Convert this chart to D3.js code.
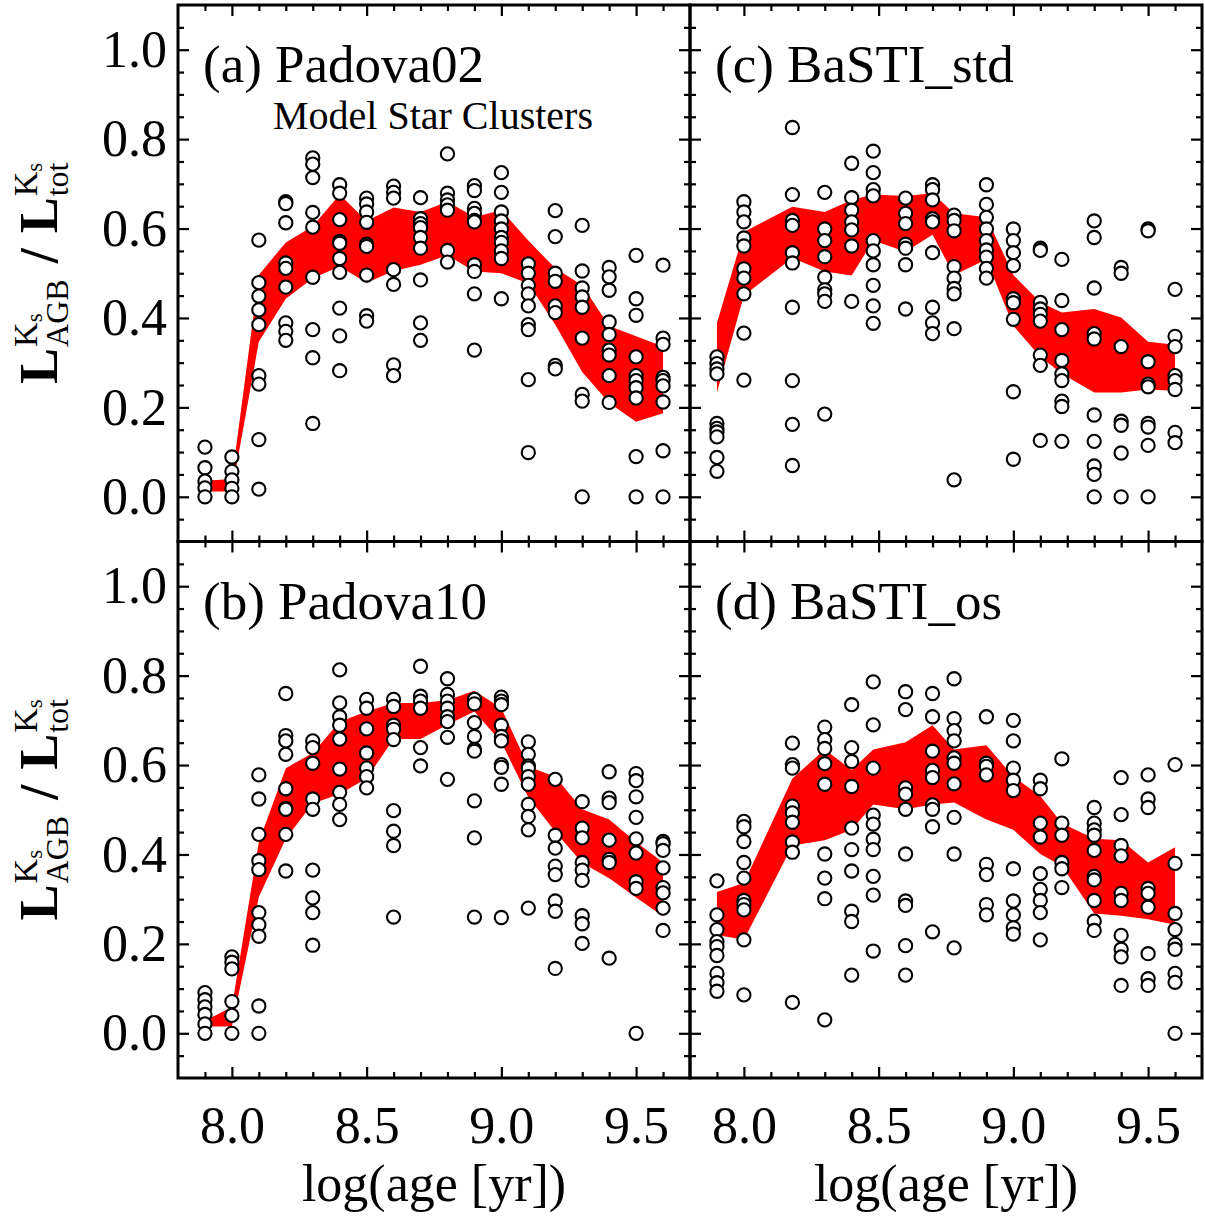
<!DOCTYPE html>
<html><head><meta charset="utf-8">
<script src="https://cdn.jsdelivr.net/npm/d3@7"></script>
<style>
body{margin:0;background:#fff}
svg{display:block}
text{font-family:"Liberation Serif","Times New Roman",Times,serif;fill:#000}
</style>
</head><body>
<svg id="chart" width="1205" height="1218"></svg>
<script>
// ---------- data ----------
const padovaAges = [7.9,8.0,8.1,8.2,8.3,8.4,8.5,8.6,8.7,8.8,8.9,9.0,9.1,9.2,9.3,9.4,9.5,9.6];
const bastiAges  = [7.9,8.0,8.18,8.3,8.4,8.48,8.6,8.7,8.78,8.9,9.0,9.1,9.18,9.3,9.4,9.5,9.6];

const padova02Points = [
 [0.111,0.065,0.035,0.020,0.000],
 [0.089,0.057,0.038,0.019,0.000],
 [0.574,0.479,0.449,0.418,0.385,0.271,0.252,0.128,0.017],
 [0.660,0.656,0.613,0.523,0.511,0.469,0.389,0.370,0.350],
 [0.758,0.744,0.714,0.636,0.603,0.491,0.374,0.311,0.164],
 [0.698,0.679,0.620,0.571,0.567,0.533,0.502,0.422,0.360,0.282],
 [0.668,0.655,0.637,0.614,0.565,0.560,0.496,0.405,0.393],
 [0.695,0.681,0.668,0.508,0.475,0.295,0.271],
 [0.669,0.622,0.611,0.602,0.580,0.556,0.485,0.389,0.350],
 [0.767,0.679,0.664,0.653,0.641,0.551,0.525],
 [0.696,0.685,0.645,0.634,0.618,0.615,0.519,0.504,0.454,0.328],
 [0.725,0.681,0.637,0.617,0.599,0.580,0.569,0.550,0.533,0.443],
 [0.521,0.500,0.473,0.454,0.427,0.385,0.374,0.262,0.099],
 [0.640,0.582,0.500,0.482,0.427,0.412,0.294,0.286],
 [0.607,0.505,0.467,0.447,0.424,0.355,0.229,0.214,0.000],
 [0.513,0.492,0.462,0.391,0.363,0.328,0.317,0.271,0.211],
 [0.540,0.443,0.406,0.313,0.271,0.260,0.244,0.221,0.090,0.000],
 [0.518,0.355,0.341,0.267,0.260,0.248,0.212,0.103,0.000]
];
const padova02Upper = [0.036,0.040,0.496,0.569,0.605,0.676,0.617,0.647,0.637,0.660,0.626,0.641,0.573,0.511,0.473,0.382,0.359,0.336];
const padova02Lower = [0.012,0.012,0.347,0.443,0.489,0.515,0.479,0.505,0.519,0.540,0.504,0.500,0.477,0.385,0.279,0.210,0.168,0.187];

const padova10Points = [
 [0.091,0.075,0.059,0.042,0.021,0.000],
 [0.171,0.159,0.144,0.071,0.040,0.000],
 [0.578,0.524,0.445,0.386,0.366,0.270,0.243,0.217,0.061,0.000],
 [0.760,0.666,0.654,0.624,0.547,0.503,0.501,0.445,0.363],
 [0.654,0.639,0.604,0.524,0.501,0.365,0.303,0.270,0.197],
 [0.813,0.739,0.708,0.689,0.658,0.591,0.539,0.512,0.478],
 [0.747,0.727,0.681,0.627,0.593,0.574,0.549],
 [0.747,0.731,0.689,0.680,0.657,0.498,0.452,0.420,0.260],
 [0.821,0.754,0.743,0.727,0.639,0.598],
 [0.793,0.758,0.743,0.727,0.708,0.697,0.662,0.568],
 [0.747,0.737,0.695,0.664,0.635,0.631,0.520,0.437,0.260],
 [0.752,0.743,0.735,0.689,0.664,0.654,0.601,0.595,0.557,0.259],
 [0.652,0.624,0.598,0.593,0.574,0.557,0.512,0.485,0.455,0.280],
 [0.568,0.443,0.414,0.374,0.355,0.296,0.273,0.145],
 [0.518,0.459,0.437,0.382,0.365,0.342,0.263,0.245,0.201],
 [0.585,0.526,0.516,0.432,0.389,0.382,0.168],
 [0.581,0.565,0.529,0.483,0.435,0.403,0.339,0.324,0.000],
 [0.429,0.424,0.409,0.370,0.326,0.314,0.280,0.230]
];
const padova10Upper = [0.028,0.059,0.428,0.593,0.627,0.697,0.720,0.739,0.739,0.745,0.766,0.727,0.597,0.574,0.501,0.478,0.428,0.382];
const padova10Lower = [0.015,0.015,0.305,0.435,0.514,0.535,0.570,0.658,0.658,0.690,0.720,0.651,0.528,0.451,0.381,0.347,0.304,0.262];

const bastiStdPoints = [
 [0.313,0.298,0.286,0.275,0.164,0.153,0.145,0.134,0.088,0.057],
 [0.660,0.637,0.615,0.579,0.561,0.510,0.489,0.454,0.366,0.261],
 [0.826,0.676,0.618,0.607,0.546,0.523,0.424,0.260,0.162,0.070],
 [0.681,0.599,0.573,0.537,0.491,0.463,0.454,0.437,0.185],
 [0.746,0.669,0.641,0.615,0.597,0.561,0.437],
 [0.773,0.725,0.687,0.673,0.573,0.550,0.519,0.473,0.427,0.388],
 [0.668,0.634,0.611,0.565,0.556,0.519,0.420],
 [0.698,0.687,0.664,0.622,0.615,0.546,0.424,0.389,0.365],
 [0.630,0.618,0.595,0.515,0.489,0.466,0.454,0.376,0.038],
 [0.698,0.654,0.625,0.599,0.573,0.552,0.536,0.511,0.489],
 [0.599,0.573,0.546,0.517,0.443,0.434,0.397,0.235,0.084],
 [0.556,0.551,0.435,0.420,0.408,0.393,0.317,0.294,0.126],
 [0.531,0.439,0.374,0.305,0.275,0.260,0.214,0.202,0.124],
 [0.617,0.580,0.467,0.365,0.353,0.183,0.124,0.069,0.050,0.000],
 [0.513,0.500,0.336,0.169,0.160,0.098,0.000],
 [0.599,0.595,0.302,0.252,0.246,0.164,0.156,0.115,0.000],
 [0.464,0.359,0.336,0.271,0.260,0.240,0.144,0.121]
];
const bastiStdUpper = [0.389,0.592,0.649,0.637,0.664,0.676,0.673,0.679,0.634,0.625,0.496,0.435,0.412,0.420,0.401,0.347,0.340];
const bastiStdLower = [0.233,0.450,0.534,0.504,0.495,0.573,0.548,0.586,0.496,0.531,0.382,0.313,0.275,0.233,0.233,0.240,0.237];

const bastiOsPoints = [
 [0.341,0.265,0.232,0.205,0.194,0.174,0.134,0.113,0.094],
 [0.474,0.462,0.429,0.382,0.347,0.297,0.288,0.276,0.209,0.086],
 [0.649,0.601,0.593,0.508,0.493,0.472,0.428,0.405,0.069],
 [0.685,0.657,0.637,0.603,0.557,0.401,0.347,0.301,0.030],
 [0.735,0.639,0.608,0.552,0.459,0.411,0.363,0.273,0.250,0.130],
 [0.786,0.690,0.593,0.488,0.468,0.434,0.411,0.351,0.309,0.184],
 [0.764,0.724,0.549,0.535,0.501,0.401,0.296,0.286,0.196,0.130],
 [0.760,0.708,0.631,0.588,0.572,0.511,0.501,0.462,0.227],
 [0.793,0.704,0.677,0.654,0.616,0.604,0.558,0.483,0.401,0.191],
 [0.708,0.604,0.597,0.578,0.378,0.355,0.288,0.265],
 [0.700,0.654,0.593,0.566,0.543,0.368,0.296,0.265,0.236,0.222],
 [0.566,0.547,0.470,0.439,0.357,0.322,0.297,0.270,0.209],
 [0.614,0.470,0.443,0.382,0.368,0.326],
 [0.505,0.470,0.455,0.443,0.409,0.351,0.343,0.297,0.251,0.230],
 [0.572,0.489,0.420,0.397,0.313,0.297,0.219,0.188,0.171,0.107],
 [0.578,0.524,0.505,0.324,0.313,0.282,0.178,0.122,0.107],
 [0.601,0.380,0.268,0.232,0.199,0.188,0.134,0.114,0.000]
];
const bastiOsUpper = [0.316,0.336,0.570,0.635,0.589,0.635,0.651,0.689,0.635,0.644,0.574,0.531,0.470,0.435,0.432,0.382,0.416];
const bastiOsLower = [0.220,0.209,0.420,0.432,0.455,0.512,0.501,0.512,0.516,0.478,0.455,0.401,0.374,0.268,0.263,0.255,0.243];

const panelLabels = ["(a) Padova02","(b) Padova10","(c) BaSTI_std","(d) BaSTI_os"];
const xMajorTicks = [8.0,8.5,9.0,9.5];
const xMinorTicks = [7.9,8.1,8.2,8.3,8.4,8.6,8.7,8.8,8.9,9.1,9.2,9.3,9.4,9.6];
const yMajorTicks = [0.0,0.2,0.4,0.6,0.8,1.0];
const yMinorTicks = [-0.05,0.05,0.1,0.15,0.25,0.3,0.35,0.45,0.5,0.55,0.65,0.7,0.75,0.85,0.9,0.95,1.05];
const xTitle = "log(age [yr])";
const subtitle = "Model Star Clusters";

// ---------- layout ----------
const svg = d3.select("#chart");
const colX = [[178,690],[690,1202]];
const rowY = [[5,541.5],[541.5,1078]];
const FS_TICK = 52;

const panels = [
  {col:0,row:0,ages:padovaAges,pts:padova02Points,up:padova02Upper,lo:padova02Lower,label:panelLabels[0]},
  {col:0,row:1,ages:padovaAges,pts:padova10Points,up:padova10Upper,lo:padova10Lower,label:panelLabels[1]},
  {col:1,row:0,ages:bastiAges,pts:bastiStdPoints,up:bastiStdUpper,lo:bastiStdLower,label:panelLabels[2]},
  {col:1,row:1,ages:bastiAges,pts:bastiOsPoints,up:bastiOsUpper,lo:bastiOsLower,label:panelLabels[3]}
];

function styleAxis(s){
  s.select(".domain").remove();
  s.selectAll(".tick line").attr("stroke","#000").attr("stroke-width",2.2);
  s.selectAll(".tick text").attr("font-size",FS_TICK).attr("fill","#000");
  s.attr("font-family",null).attr("font-size",null);
}

panels.forEach(p=>{
  const [xl,xr] = colX[p.col];
  const [yt,yb] = rowY[p.row];
  const x = d3.scaleLinear().domain([7.8,9.7]).range([xl,xr]);
  const y = d3.scaleLinear().domain([-0.1,1.1]).range([yb,yt]);
  const g = svg.append("g");

  // band
  const bandData = p.ages.map((a,i)=>({a, hi:p.up[i], lo:p.lo[i]}));
  const area = d3.area().x(d=>x(d.a)).y0(d=>y(d.lo)).y1(d=>y(d.hi));
  g.append("path").datum(bandData).attr("d",area).attr("fill","#ff0000");

  // points
  const flat = [];
  p.ages.forEach((a,i)=>p.pts[i].forEach(v=>flat.push({a,v})));
  g.selectAll("circle").data(flat).enter().append("circle")
    .attr("cx",d=>x(d.a)).attr("cy",d=>y(d.v)).attr("r",6.6)
    .attr("fill","#fff").attr("stroke","#000").attr("stroke-width",2.1);

  // ticks
  const showX = p.row===1, showY = p.col===0;
  g.append("g").attr("transform",`translate(0,${yb})`)
    .call(d3.axisBottom(x).tickValues(xMajorTicks).tickSize(-11).tickPadding(28)
      .tickFormat(showX?d3.format(".1f"):()=>"")).call(styleAxis);
  g.append("g").attr("transform",`translate(0,${yb})`)
    .call(d3.axisBottom(x).tickValues(xMinorTicks).tickSize(-6).tickFormat(()=>"")).call(styleAxis);
  g.append("g").attr("transform",`translate(0,${yt})`)
    .call(d3.axisTop(x).tickValues(xMajorTicks).tickSize(-11).tickFormat(()=>"")).call(styleAxis);
  g.append("g").attr("transform",`translate(0,${yt})`)
    .call(d3.axisTop(x).tickValues(xMinorTicks).tickSize(-6).tickFormat(()=>"")).call(styleAxis);
  g.append("g").attr("transform",`translate(${xl},0)`)
    .call(d3.axisLeft(y).tickValues(yMajorTicks).tickSize(-11).tickPadding(11)
      .tickFormat(showY?d3.format(".1f"):()=>"")).call(styleAxis);
  g.append("g").attr("transform",`translate(${xl},0)`)
    .call(d3.axisLeft(y).tickValues(yMinorTicks).tickSize(-6).tickFormat(()=>"")).call(styleAxis);
  g.append("g").attr("transform",`translate(${xr},0)`)
    .call(d3.axisRight(y).tickValues(yMajorTicks).tickSize(-11).tickFormat(()=>"")).call(styleAxis);
  g.append("g").attr("transform",`translate(${xr},0)`)
    .call(d3.axisRight(y).tickValues(yMinorTicks).tickSize(-6).tickFormat(()=>"")).call(styleAxis);

  // frame
  g.append("rect").attr("x",xl).attr("y",yt).attr("width",xr-xl).attr("height",yb-yt)
    .attr("fill","none").attr("stroke","#000").attr("stroke-width",3);

  // label
  g.append("text").attr("x",xl+25).attr("y",yt+77).attr("font-size",53).text(p.label);
  if(p.col===0 && p.row===0){
    g.append("text").attr("x",xl+95).attr("y",yt+124).attr("font-size",40).text(subtitle);
  }
  if(showX){
    g.append("text").attr("x",(xl+xr)/2).attr("y",1201).attr("text-anchor","middle")
      .attr("font-size",52).text(xTitle);
  }
});

// y titles
function yTitle(xBase, cy){
  const g = svg.append("g").attr("transform",`translate(${xBase},${cy}) rotate(-90)`);
  const inner = g.append("g");
  const BIG=54, SUB=32, KS=34, TINY=23;
  function t(str,x,y,size,bold){
    const el = inner.append("text").attr("x",x).attr("y",y).attr("font-size",size)
      .attr("font-weight",bold?"bold":"normal").text(str);
    return el.node().getComputedTextLength();
  }
  let cur = 0;
  const wL = t("L",cur,0,BIG,true); cur += wL + 1;
  const wA = t("AGB",cur,11,SUB,false);
  const wK = t("K",cur,-20,KS,false);
  const ws = t("s",cur+wK,-15,TINY,false);
  cur += Math.max(wA, wK+ws) + 16;
  const wS = t("/",cur,0,BIG,true); cur += wS + 15;
  const wL2 = t("L",cur,0,BIG,true); cur += wL2 + 1;
  const wT = t("tot",cur,11,SUB,false);
  const wK2 = t("K",cur,-20,KS,false);
  const ws2 = t("s",cur+wK2,-15,TINY,false);
  cur += Math.max(wT, wK2+ws2);
  inner.attr("transform",`translate(${-cur/2},0)`);
}
yTitle(57, (rowY[0][0]+rowY[0][1])/2);
yTitle(57, (rowY[1][0]+rowY[1][1])/2);
</script>
</body></html>
